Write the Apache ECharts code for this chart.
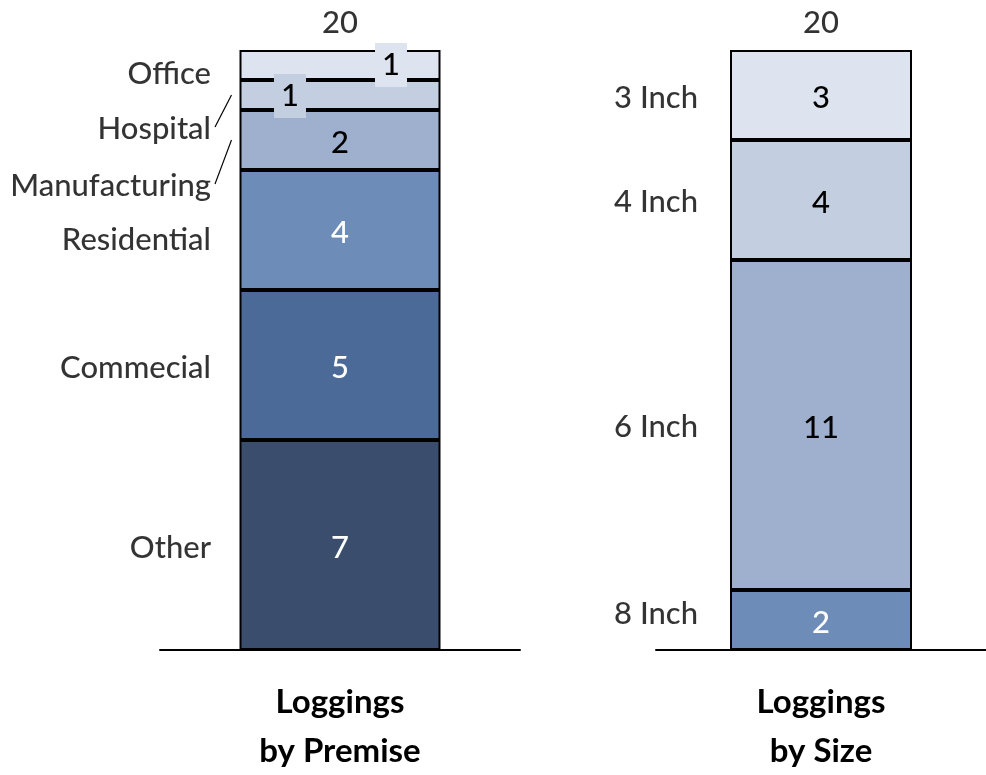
<!DOCTYPE html>
<html>
<head>
<meta charset="utf-8">
<style>
  html, body { margin: 0; padding: 0; background: #ffffff; }
  #chart { width: 986px; height: 775px; }
</style>
<script src="https://cdn.jsdelivr.net/npm/echarts@6/dist/echarts.min.js"></script>
</head>
<body>
<div id="chart"></div>
<script>
// Segments listed from the bottom of each column to the top
const premiseCategories = ['Other', 'Commecial', 'Residential', 'Manufacturing', 'Hospital', 'Office'];
const premiseValues = [7, 5, 4, 2, 1, 1];
const sizeCategories = ['8 Inch', '6 Inch', '4 Inch', '3 Inch'];
const sizeValues = [2, 11, 4, 3];
const panelTitles = ['Loggings\nby Premise', 'Loggings\nby Size'];

// Styling
const FONT = 'Lato, "Open Sans", sans-serif';
const FS = 31;
const FW = 500;
const premiseColors = ['#3a4d6c', '#4b6a98', '#6e8cb8', '#9eb0ce', '#c3cee0', '#dde4ef'];
const premiseTextColors = ['#ffffff', '#ffffff', '#ffffff', '#000000', '#000000', '#000000'];
const sizeColors = ['#6e8cb8', '#9eb0ce', '#c3cee0', '#dde4ef'];
const sizeTextColors = ['#ffffff', '#000000', '#000000', '#000000'];
// vertical nudges (px) for the category names beside each column
const premiseNameNudge = [3, 3, 10, 46, 34, 9];
const sizeNameNudge = [-6, 2, 2, 3];
// value labels that sit in a small tag instead of the middle of the segment
const valueTags = {
  Office: { offset: [51, 0], padding: [10, 7, 3, 7] },
  Hospital: { offset: [-50, 1], padding: [9, 7, 4, 7] }
};
// category names joined to their segment by a short leader line
const leaderNames = ['Hospital', 'Manufacturing'];

const panels = [
  { names: premiseCategories, values: premiseValues, colors: premiseColors, text: premiseTextColors,
    nudge: premiseNameNudge, barWidth: 201, nameGap: 129, stack: 'premise' },
  { names: sizeCategories, values: sizeValues, colors: sizeColors, text: sizeTextColors,
    nudge: sizeNameNudge, barWidth: 182, nameGap: 123, stack: 'size' }
];

const sum = a => a.reduce((s, v) => s + v, 0);
const midpoints = a => { let c = 0; return a.map(v => { const m = c + v / 2; c += v; return m; }); };

const grids = [
  { left: 160, width: 360, top: 50, height: 600, outerBoundsMode: 'none', containLabel: false },
  { left: 656, width: 330, top: 50, height: 600, outerBoundsMode: 'none', containLabel: false }
];

const xAxes = panels.map((p, i) => ({
  type: 'category', gridIndex: i, data: [p.stack],
  axisLine: { show: true, lineStyle: { color: '#000', width: 2 } },
  axisTick: { show: false }, axisLabel: { show: false }, splitLine: { show: false },
  name: panelTitles[i], nameLocation: 'middle', nameGap: 28,
  nameTextStyle: { fontFamily: FONT, fontSize: 33, fontWeight: 'bold', color: '#000', lineHeight: 49 }
}));

const yAxes = panels.map((p, i) => ({
  type: 'value', gridIndex: i, min: 0, max: sum(p.values), show: false
}));

const series = [];
panels.forEach((p, i) => {
  // stacked segments with their values
  p.names.forEach((name, k) => {
    const tag = valueTags[name];
    const label = {
      show: true, position: 'inside', formatter: '{c}', offset: [0, 3],
      fontFamily: FONT, fontSize: FS, fontWeight: FW, color: p.text[k]
    };
    if (tag) {
      Object.assign(label, {
        offset: tag.offset, padding: tag.padding, backgroundColor: p.colors[k], lineHeight: 31
      });
    }
    series.push({
      type: 'bar', name: name, stack: p.stack, xAxisIndex: i, yAxisIndex: i,
      barWidth: p.barWidth, silent: true, z: 2,
      itemStyle: { color: p.colors[k], borderColor: '#000', borderWidth: 2 },
      label: label,
      data: [p.values[k]]
    });
  });
  // category names to the left of each column
  const mids = midpoints(p.values);
  series.push({
    type: 'scatter', xAxisIndex: i, yAxisIndex: i, symbolSize: 0, silent: true, z: 3,
    data: p.names.map((name, k) => ({
      name: name, value: [0, mids[k]],
      label: { offset: [0, p.nudge[k]] }
    })),
    label: {
      show: true, position: 'left', distance: p.nameGap, formatter: '{b}',
      fontFamily: FONT, fontSize: FS, fontWeight: FW, color: '#000'
    }
  });
  // column total above each column
  series.push({
    type: 'scatter', xAxisIndex: i, yAxisIndex: i, symbolSize: 0, silent: true, z: 3,
    data: [[0, sum(p.values)]],
    label: {
      show: true, position: 'top', distance: 12, formatter: String(sum(p.values)),
      fontFamily: FONT, fontSize: FS, fontWeight: FW, color: '#000'
    }
  });
});

const chart = echarts.init(document.getElementById('chart'), null, { renderer: 'canvas' });
chart.setOption({
  animation: false,
  backgroundColor: '#ffffff',
  grid: grids, xAxis: xAxes, yAxis: yAxes, series: series
});

// leader lines from displaced names back toward their segment
const p0 = panels[0];
const mids0 = midpoints(p0.values);
const lines = leaderNames.map(name => {
  const k = p0.names.indexOf(name);
  const seg = chart.convertToPixel({ xAxisIndex: 0, yAxisIndex: 0 }, [0, mids0[k]]);
  const barLeft = seg[0] - p0.barWidth / 2;
  const labelRight = seg[0] - p0.nameGap;
  return {
    type: 'line', silent: true,
    shape: { x1: labelRight + 4, y1: seg[1] + p0.nudge[k] - 2, x2: barLeft - 8, y2: seg[1] },
    style: { stroke: '#000', lineWidth: 1.2 }
  };
});
chart.setOption({ graphic: lines });
</script>
</body>
</html>
